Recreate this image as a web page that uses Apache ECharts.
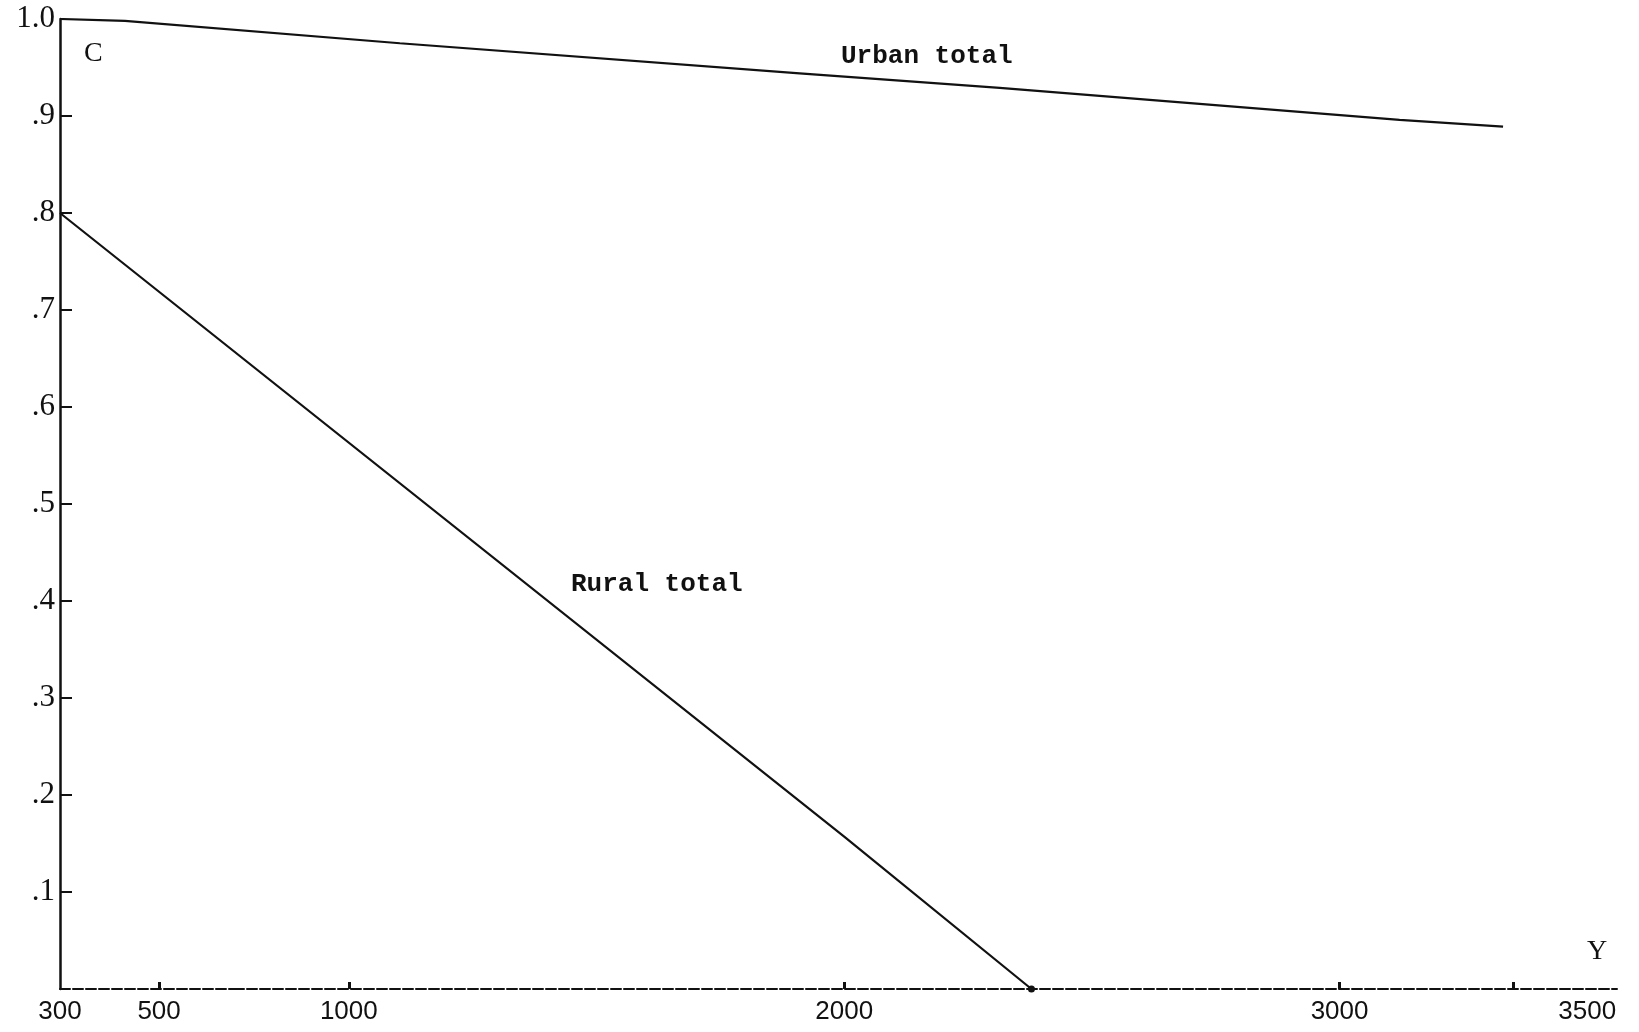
<!DOCTYPE html>
<html>
<head>
<meta charset="utf-8">
<script src="https://cdn.jsdelivr.net/npm/echarts@6.0.0/dist/echarts.min.js"></script>
<style>
html,body{margin:0;padding:0;background:#fff;}
#chart{width:1639px;height:1032px;}
</style>
</head>
<body>
<div id="chart"></div>
<script>
// ---- data ----
const urbanX = [300, 431, 1103, 1910, 2314, 3121, 3330];
const urbanC = [1.0, 0.998, 0.975, 0.944, 0.929, 0.896, 0.889];
const ruralX = [300, 2000, 2378];
const ruralC = [0.80, 0.157, 0.0];

const xLabelValues = [300, 500, 1000, 2000, 3000, 3500];
const xTickValues = [500, 1000, 2000, 3000, 3350];
const yTickValues = [0.1, 0.2, 0.3, 0.4, 0.5, 0.6, 0.7, 0.8, 0.9];
const yLabelValues = [0.1, 0.2, 0.3, 0.4, 0.5, 0.6, 0.7, 0.8, 0.9, 1.0];
const yLabelTexts = ['.1', '.2', '.3', '.4', '.5', '.6', '.7', '.8', '.9', '1.0'];

const seriesNames = ['Urban total', 'Rural total'];

const pair = (xs, ys) => xs.map((x, i) => [x, ys[i]]);

const chart = echarts.init(document.getElementById('chart'));
const ink = '#111';

const option = {
  backgroundColor: '#fff',
  animation: false,
  grid: { left: 60, right: 22, top: 19, bottom: 43, containLabel: false },
  xAxis: {
    type: 'value',
    min: 300,
    max: 3560,
    breaks: [{ start: 650, end: 767, gap: 0 }],
    breakArea: { show: false },
    splitLine: { show: false },
    axisLine: { show: true, onZero: false, lineStyle: { color: ink, width: 2, type: [10, 3] } },
    axisTick: { show: true, inside: true, length: 7, customValues: xTickValues, lineStyle: { color: ink, width: 3 } },
    axisLabel: {
      show: true,
      customValues: xLabelValues,
      margin: 10,
      color: ink,
      fontFamily: 'Liberation Sans',
      fontSize: 26,
      formatter: v => String(v)
    }
  },
  yAxis: {
    type: 'value',
    min: 0,
    max: 1,
    splitLine: { show: false },
    axisLine: { show: true, lineStyle: { color: ink, width: 2.5 } },
    axisTick: { show: true, inside: true, length: 12, customValues: yTickValues, lineStyle: { color: ink, width: 2 } },
    axisLabel: {
      show: true,
      customValues: yLabelValues,
      margin: 5,
      color: ink,
      fontFamily: 'Liberation Serif',
      fontSize: 31,
      formatter: v => yLabelTexts[yLabelValues.findIndex(t => Math.abs(t - v) < 1e-6)] || ''
    }
  },
  series: [
    {
      name: seriesNames[0],
      type: 'line',
      data: pair(urbanX, urbanC),
      showSymbol: false,
      lineStyle: { color: ink, width: 2.2 },
      z: 3
    },
    {
      name: seriesNames[1],
      type: 'line',
      data: pair(ruralX, ruralC).map((p, i, a) => i === a.length - 1
        ? { value: p, symbol: 'circle', symbolSize: 7, itemStyle: { color: ink } }
        : { value: p, symbol: 'none' }),
      showSymbol: true,
      lineStyle: { color: ink, width: 2.2 },
      z: 3
    }
  ],
  graphic: [
    { type: 'text', left: 841, top: 43, style: { text: seriesNames[0], fill: ink, font: 'bold 26px "Liberation Mono"' } },
    { type: 'text', left: 571, top: 571, style: { text: seriesNames[1], fill: ink, font: 'bold 26px "Liberation Mono"' } },
    { type: 'text', left: 84, top: 40, style: { text: 'C', fill: ink, font: '28px "Liberation Serif"' } },
    { type: 'text', left: 1587, top: 938, style: { text: 'Y', fill: ink, font: '28px "Liberation Serif"' } }
  ]
};

chart.setOption(option);
</script>
</body>
</html>
